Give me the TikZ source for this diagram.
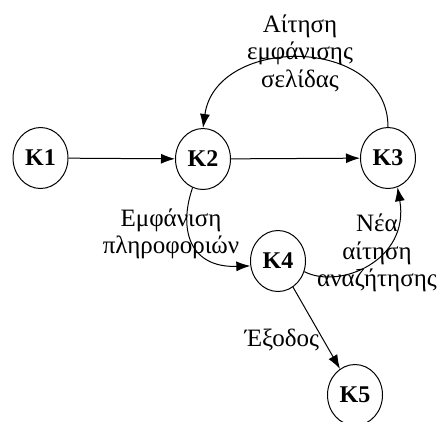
\documentclass[tikz,border=0pt]{standalone}
\usepackage{fontspec}
\setmainfont{Liberation Serif}
\usetikzlibrary{shapes.geometric,arrows.meta}

\begin{document}
\begin{tikzpicture}[
            x=1pt, y=-1pt,
            font=\fontsize{25}{27.5}\selectfont,
            line width=1pt,
            >={Latex[length=14pt,width=10pt]},
            kstate/.style={draw, ellipse, inner sep=0pt,
                minimum width=55pt, minimum height=61pt, font=\fontsize{24}{26}\selectfont\bfseries},
            lbl/.style={align=center, inner sep=0pt}
        ]

            % --- Riquadro della figura ---
            \useasboundingbox (0, 0) rectangle (438, 421);

            % --- Stati K1 ... K5 ---
            \node[kstate] (k1) at (40.5, 158) {K1};
            \node[kstate] (k2) at (203, 159) {K2};
            \node[kstate] (k3) at (388, 158) {K3};
            \node[kstate] (k4) at (278, 261) {K4};
            \node[kstate] (k5) at (355, 395) {K5};

            % --- Etichette ---
            \node[lbl] (lreq) at (300, 53) {Αίτηση\\εμφάνισης\\σελίδας};
            \node[lbl] (lshow) at (171, 234) {Εμφάνιση\\πληροφοριών};
            \node[lbl] (lnew) at (377, 253) {Νέα\\αίτηση\\αναζήτησης};
            \node[lbl] (lexit) at (282, 340) {Έξοδος};

            % --- Transizioni dritte ---
            \draw[->] (k1) -- (k2);
            \draw[->] (k2) -- (k3);
            \draw[->] (k4) -- (k5);

            % --- Transizioni curve ---
            \draw[->] (k3.north) .. controls (388, 35) and (216, 35) .. (k2.north);
            \draw[->] (k2.250) .. controls (178, 230) and (190, 268) .. (k4.190);
            \draw[->] (k4.-22) .. controls (340, 290) and (410, 260) .. (k3.-72);

    \end{tikzpicture}
\end{document}
